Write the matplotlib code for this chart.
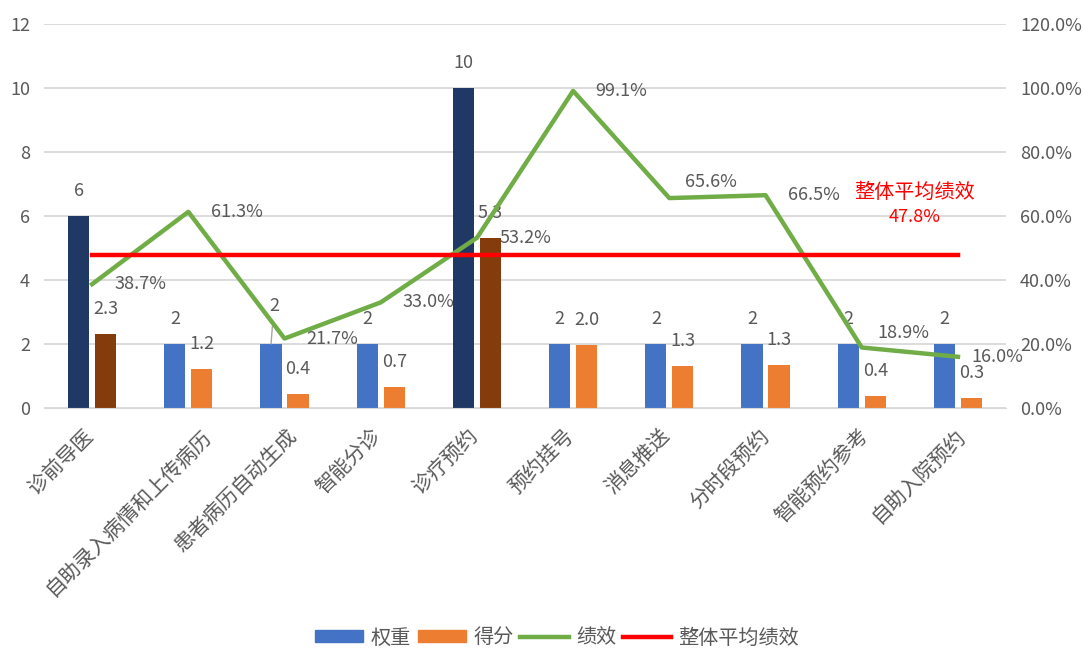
import matplotlib
matplotlib.use("Agg")
import matplotlib.pyplot as plt
import matplotlib.transforms as mtransforms
from matplotlib.patches import Patch
from matplotlib.lines import Line2D
from matplotlib.ticker import FuncFormatter
import numpy as np

plt.rcParams['font.family'] = ['Noto Sans CJK SC', 'DejaVu Sans']

categories = ["诊前导医", "自助录入病情和上传病历", "患者病历自动生成", "智能分诊", "诊疗预约",
              "预约挂号", "消息推送", "分时段预约", "智能预约参考", "自助入院预约"]
weights = [6, 2, 2, 2, 10, 2, 2, 2, 2, 2]
scores = [2.32, 1.23, 0.43, 0.66, 5.32, 1.98, 1.31, 1.33, 0.38, 0.32]
perf = [0.387, 0.613, 0.217, 0.330, 0.532, 0.991, 0.656, 0.665, 0.189, 0.160]
avg_perf = 0.478
highlight = [0, 4]

GREY = "#595959"
BLUE, ORANGE = "#4472C4", "#ED7D31"
NAVY, BROWN = "#203864", "#843C0C"
NUM_FS = 13

fig = plt.figure(figsize=(10.84, 6.51), dpi=100)
ax = fig.add_axes([0.0406, 0.3733, 0.8875, 0.5898])
ax2 = ax.twinx()

x = np.arange(len(categories))
w, off = 0.22, 0.14
wcol = [NAVY if i in highlight else BLUE for i in x]
scol = [BROWN if i in highlight else ORANGE for i in x]
ax.bar(x - off, weights, w, color=wcol, zorder=2)
ax.bar(x + off, scores, w, color=scol, zorder=2)

ax.set_xlim(-0.5, len(categories) - 0.5)
ax.set_ylim(0, 12)
ax.set_yticks(range(0, 13, 2))
ax.grid(axis="y", color="#D9D9D9", lw=1.3)
ax.set_axisbelow(True)
for s in ["top", "left", "right"]:
    ax.spines[s].set_visible(False)
    ax2.spines[s].set_visible(False)
ax.spines["bottom"].set_color("#D9D9D9")
ax2.spines["bottom"].set_visible(False)
ax.tick_params(axis="y", length=0, pad=10, labelsize=NUM_FS, labelcolor=GREY)
ax.tick_params(axis="x", length=0, pad=12)
ax.set_xticks(x)
ax.set_xticklabels(categories, rotation=45, ha="right", fontsize=14.8, color=GREY)
# excel pushes longer rotated labels a little further right
for lab in ax.get_xticklabels():
    px = 5 + 3.2 * max(len(lab.get_text()) - 4, 0)
    shift = mtransforms.ScaledTranslation(px / 100, 0, fig.dpi_scale_trans)
    lab.set_transform(lab.get_transform() + shift)

ax2.set_ylim(0, 1.2)
ax2.set_yticks(np.arange(0, 1.21, 0.2))
ax2.yaxis.set_major_formatter(FuncFormatter(lambda v, p: "%.1f%%" % (v * 100)))
ax2.tick_params(axis="y", length=0, pad=10, labelsize=NUM_FS, labelcolor=GREY)

ax2.plot(x, perf, color="#70AD47", lw=3.2, zorder=3)
ax2.plot(x, [avg_perf] * len(x), color="#FF0000", lw=3.2, zorder=3)

# bar value labels
for i in x:
    if i == 2:
        ax.annotate("%d" % weights[i], xy=(i - off, weights[i]), xytext=(2, 27),
                    textcoords="offset points", ha="center", va="center", fontsize=NUM_FS,
                    color=GREY,
                    arrowprops=dict(arrowstyle="-", color="#A6A6A6", lw=1, shrinkA=6, shrinkB=0))
    else:
        ax.annotate("%d" % weights[i], xy=(i - off, weights[i]), xytext=(0, 18),
                    textcoords="offset points", ha="center", va="center", fontsize=NUM_FS,
                    color=GREY)
    ax.annotate("%.1f" % scores[i], xy=(i + off, scores[i]), xytext=(0, 18),
                textcoords="offset points", ha="center", va="center", fontsize=NUM_FS, color=GREY)

# performance labels
pct_off = {6: (11, 11.5), 8: (11.5, 10.5), 9: (10, 0)}
for i in x:
    dx, dy = pct_off.get(i, (16, 0))
    ax2.annotate("%.1f%%" % (perf[i] * 100), xy=(i, perf[i]), xytext=(dx, dy),
                 textcoords="offset points", ha="left", va="center", fontsize=NUM_FS, color=GREY,
                 zorder=5)

ax2.text(0.905, 0.5625, "整体平均绩效", transform=ax.transAxes, ha="center", va="center",
         fontsize=14.5, color="#FF0000")
ax2.text(0.905, 0.497, "%.1f%%" % (avg_perf * 100), transform=ax.transAxes, ha="center",
         va="center", fontsize=13, color="#FF0000")

handles = [Patch(color=BLUE), Patch(color=ORANGE),
           Line2D([], [], color="#70AD47", lw=3.2), Line2D([], [], color="#FF0000", lw=3.2)]
fig.legend(handles, ["权重", "得分", "绩效", "整体平均绩效"], loc="center",
           bbox_to_anchor=(0.514, 0.02), ncol=4, frameon=False, fontsize=14.5,
           handlelength=2.4, handleheight=0.55, handletextpad=0.35, columnspacing=0.35,
           labelcolor=GREY)

fig.savefig("out.png", dpi=100)
